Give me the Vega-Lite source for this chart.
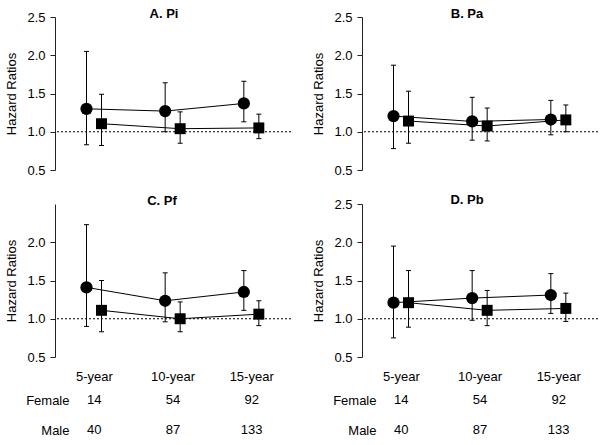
{
  "$schema": "https://vega.github.io/schema/vega-lite/v6.json",
  "padding": {"left": 5, "top": 8, "right": 2, "bottom": 2},
  "background": "white",
  "config": {
    "view": {"stroke": null},
    "font": "Liberation Sans",
    "axis": {"labelFont": "Liberation Sans", "titleFont": "Liberation Sans", "labelColor": "#000", "titleColor": "#000", "grid": false, "domainColor": "#222", "tickColor": "#222", "labelFontSize": 13, "titleFontSize": 13, "titleFontWeight": "normal"},
    "title": {"font": "Liberation Sans", "fontSize": 13, "fontWeight": "bold", "color": "#000"}
  },
  "datasets": {
    "hr": [
      {"panel": "A", "period": "5-year", "sex": "Female", "hr": 1.30, "lo": 0.83, "hi": 2.05},
      {"panel": "A", "period": "10-year", "sex": "Female", "hr": 1.27, "lo": 1.00, "hi": 1.64},
      {"panel": "A", "period": "15-year", "sex": "Female", "hr": 1.37, "lo": 1.13, "hi": 1.66},
      {"panel": "A", "period": "5-year", "sex": "Male", "hr": 1.105, "lo": 0.82, "hi": 1.49},
      {"panel": "A", "period": "10-year", "sex": "Male", "hr": 1.04, "lo": 0.85, "hi": 1.26},
      {"panel": "A", "period": "15-year", "sex": "Male", "hr": 1.05, "lo": 0.91, "hi": 1.23},
      {"panel": "B", "period": "5-year", "sex": "Female", "hr": 1.205, "lo": 0.78, "hi": 1.87},
      {"panel": "B", "period": "10-year", "sex": "Female", "hr": 1.135, "lo": 0.89, "hi": 1.45},
      {"panel": "B", "period": "15-year", "sex": "Female", "hr": 1.16, "lo": 0.96, "hi": 1.41},
      {"panel": "B", "period": "5-year", "sex": "Male", "hr": 1.14, "lo": 0.85, "hi": 1.53},
      {"panel": "B", "period": "10-year", "sex": "Male", "hr": 1.075, "lo": 0.88, "hi": 1.31},
      {"panel": "B", "period": "15-year", "sex": "Male", "hr": 1.155, "lo": 1.00, "hi": 1.35},
      {"panel": "C", "period": "5-year", "sex": "Female", "hr": 1.41, "lo": 0.90, "hi": 2.23},
      {"panel": "C", "period": "10-year", "sex": "Female", "hr": 1.235, "lo": 0.96, "hi": 1.60},
      {"panel": "C", "period": "15-year", "sex": "Female", "hr": 1.35, "lo": 1.11, "hi": 1.63},
      {"panel": "C", "period": "5-year", "sex": "Male", "hr": 1.11, "lo": 0.83, "hi": 1.50},
      {"panel": "C", "period": "10-year", "sex": "Male", "hr": 1.00, "lo": 0.83, "hi": 1.22},
      {"panel": "C", "period": "15-year", "sex": "Male", "hr": 1.06, "lo": 0.91, "hi": 1.235},
      {"panel": "D", "period": "5-year", "sex": "Female", "hr": 1.21, "lo": 0.75, "hi": 1.95},
      {"panel": "D", "period": "10-year", "sex": "Female", "hr": 1.27, "lo": 0.98, "hi": 1.63},
      {"panel": "D", "period": "15-year", "sex": "Female", "hr": 1.31, "lo": 1.07, "hi": 1.59},
      {"panel": "D", "period": "5-year", "sex": "Male", "hr": 1.21, "lo": 0.89, "hi": 1.63},
      {"panel": "D", "period": "10-year", "sex": "Male", "hr": 1.11, "lo": 0.91, "hi": 1.37},
      {"panel": "D", "period": "15-year", "sex": "Male", "hr": 1.135, "lo": 0.965, "hi": 1.335}
    ],
    "counts": [
      {"row": "Female", "period": "5-year", "n": 14},
      {"row": "Female", "period": "10-year", "n": 54},
      {"row": "Female", "period": "15-year", "n": 92},
      {"row": "Male", "period": "5-year", "n": 40},
      {"row": "Male", "period": "10-year", "n": 87},
      {"row": "Male", "period": "15-year", "n": 133}
    ],
    "ref": [{"value": 1}]
  },
  "vconcat": [
    {
      "hconcat": [
        {
          "width": 236, "height": 153,
          "title": {"text": "A. Pi", "frame": "group", "baseline": "alphabetic", "offset": -3, "dx": -9, "dy": 17},
          "data": {"name": "hr"},
          "transform": [{"filter": "datum.panel === 'A'"}],
          "layer": [
            {"data": {"name": "ref"}, "mark": {"type": "rule", "strokeDash": [2, 2], "color": "#000", "strokeWidth": 1},
             "encoding": {"y": {"field": "value", "type": "quantitative", "title": "Hazard Ratios", "scale": {"domain": [0.5, 2.5], "nice": false, "zero": false}, "axis": {"values": [0.5, 1, 1.5, 2, 2.5], "tickCount": 5, "format": ".1f", "tickSize": 5, "labelPadding": 5, "titlePadding": 8, "labelOverlap": false}}}},
            {"mark": {"type": "line", "color": "#000", "strokeWidth": 1},
             "encoding": {"x": {"field": "period", "type": "ordinal", "sort": ["5-year", "10-year", "15-year"], "scale": {"type": "band", "paddingInner": 0, "paddingOuter": 0}, "axis": null},
                          "xOffset": {"field": "sex", "type": "nominal", "sort": ["Female", "Male"], "scale": {"type": "point", "range": [31.5, 46.5], "padding": 0}},
                          "y": {"field": "hr", "type": "quantitative", "title": "Hazard Ratios"},
                          "detail": {"field": "sex", "type": "nominal"}}},
            {"mark": {"type": "rule", "color": "#000", "strokeWidth": 1},
             "encoding": {"x": {"field": "period", "type": "ordinal", "sort": ["5-year", "10-year", "15-year"], "axis": null},
                          "xOffset": {"field": "sex", "type": "nominal", "sort": ["Female", "Male"]},
                          "y": {"field": "lo", "type": "quantitative", "title": "Hazard Ratios"}, "y2": {"field": "hi"}}},
            {"mark": {"type": "tick", "orient": "horizontal", "size": 5, "thickness": 1, "color": "#000", "opacity": 1},
             "encoding": {"x": {"field": "period", "type": "ordinal", "sort": ["5-year", "10-year", "15-year"], "axis": null},
                          "xOffset": {"field": "sex", "type": "nominal", "sort": ["Female", "Male"]},
                          "y": {"field": "hi", "type": "quantitative", "title": "Hazard Ratios"}}},
            {"mark": {"type": "tick", "orient": "horizontal", "size": 5, "thickness": 1, "color": "#000", "opacity": 1},
             "encoding": {"x": {"field": "period", "type": "ordinal", "sort": ["5-year", "10-year", "15-year"], "axis": null},
                          "xOffset": {"field": "sex", "type": "nominal", "sort": ["Female", "Male"]},
                          "y": {"field": "lo", "type": "quantitative", "title": "Hazard Ratios"}}},
            {"mark": {"type": "point", "filled": true, "color": "#000", "opacity": 1},
             "encoding": {"x": {"field": "period", "type": "ordinal", "sort": ["5-year", "10-year", "15-year"], "axis": null},
                          "xOffset": {"field": "sex", "type": "nominal", "sort": ["Female", "Male"]},
                          "y": {"field": "hr", "type": "quantitative", "title": "Hazard Ratios"},
                          "shape": {"field": "sex", "type": "nominal", "scale": {"domain": ["Female", "Male"], "range": ["circle", "square"]}, "legend": null},
                          "size": {"field": "sex", "type": "ordinal", "scale": {"domain": ["Female", "Male"], "range": [150, 120]}, "legend": null}}}
          ]
        },
        {
          "width": 236, "height": 153,
          "title": {"text": "B. Pa", "frame": "group", "baseline": "alphabetic", "offset": -3, "dx": -13, "dy": 17},
          "data": {"name": "hr"},
          "transform": [{"filter": "datum.panel === 'B'"}],
          "layer": [
            {"data": {"name": "ref"}, "mark": {"type": "rule", "strokeDash": [2, 2], "color": "#000", "strokeWidth": 1},
             "encoding": {"y": {"field": "value", "type": "quantitative", "title": "Hazard Ratios", "scale": {"domain": [0.5, 2.5], "nice": false, "zero": false}, "axis": {"values": [0.5, 1, 1.5, 2, 2.5], "tickCount": 5, "format": ".1f", "tickSize": 5, "labelPadding": 5, "titlePadding": 8, "labelOverlap": false}}}},
            {"mark": {"type": "line", "color": "#000", "strokeWidth": 1},
             "encoding": {"x": {"field": "period", "type": "ordinal", "sort": ["5-year", "10-year", "15-year"], "scale": {"type": "band", "paddingInner": 0, "paddingOuter": 0}, "axis": null},
                          "xOffset": {"field": "sex", "type": "nominal", "sort": ["Female", "Male"], "scale": {"type": "point", "range": [31.5, 46.5], "padding": 0}},
                          "y": {"field": "hr", "type": "quantitative", "title": "Hazard Ratios"},
                          "detail": {"field": "sex", "type": "nominal"}}},
            {"mark": {"type": "rule", "color": "#000", "strokeWidth": 1},
             "encoding": {"x": {"field": "period", "type": "ordinal", "sort": ["5-year", "10-year", "15-year"], "axis": null},
                          "xOffset": {"field": "sex", "type": "nominal", "sort": ["Female", "Male"]},
                          "y": {"field": "lo", "type": "quantitative", "title": "Hazard Ratios"}, "y2": {"field": "hi"}}},
            {"mark": {"type": "tick", "orient": "horizontal", "size": 5, "thickness": 1, "color": "#000", "opacity": 1},
             "encoding": {"x": {"field": "period", "type": "ordinal", "sort": ["5-year", "10-year", "15-year"], "axis": null},
                          "xOffset": {"field": "sex", "type": "nominal", "sort": ["Female", "Male"]},
                          "y": {"field": "hi", "type": "quantitative", "title": "Hazard Ratios"}}},
            {"mark": {"type": "tick", "orient": "horizontal", "size": 5, "thickness": 1, "color": "#000", "opacity": 1},
             "encoding": {"x": {"field": "period", "type": "ordinal", "sort": ["5-year", "10-year", "15-year"], "axis": null},
                          "xOffset": {"field": "sex", "type": "nominal", "sort": ["Female", "Male"]},
                          "y": {"field": "lo", "type": "quantitative", "title": "Hazard Ratios"}}},
            {"mark": {"type": "point", "filled": true, "color": "#000", "opacity": 1},
             "encoding": {"x": {"field": "period", "type": "ordinal", "sort": ["5-year", "10-year", "15-year"], "axis": null},
                          "xOffset": {"field": "sex", "type": "nominal", "sort": ["Female", "Male"]},
                          "y": {"field": "hr", "type": "quantitative", "title": "Hazard Ratios"},
                          "shape": {"field": "sex", "type": "nominal", "scale": {"domain": ["Female", "Male"], "range": ["circle", "square"]}, "legend": null},
                          "size": {"field": "sex", "type": "ordinal", "scale": {"domain": ["Female", "Male"], "range": [150, 120]}, "legend": null}}}
          ]
        }
      ],
      "spacing": 20
    },
    {
      "concat": [
        {
          "width": 236, "height": 153,
          "title": {"text": "C. Pf", "frame": "group", "baseline": "alphabetic", "offset": -3, "dx": -11, "dy": 11},
          "data": {"name": "hr"},
          "transform": [{"filter": "datum.panel === 'C'"}],
          "layer": [
            {"data": {"name": "ref"}, "mark": {"type": "rule", "strokeDash": [2, 2], "color": "#000", "strokeWidth": 1},
             "encoding": {"y": {"field": "value", "type": "quantitative", "title": "Hazard Ratios", "scale": {"domain": [0.5, 2.5], "nice": false, "zero": false}, "axis": {"values": [0.5, 1, 1.5, 2], "tickCount": 5, "format": ".1f", "tickSize": 5, "labelPadding": 5, "titlePadding": 8, "labelOverlap": false}}}},
            {"mark": {"type": "line", "color": "#000", "strokeWidth": 1},
             "encoding": {"x": {"field": "period", "type": "ordinal", "sort": ["5-year", "10-year", "15-year"], "scale": {"type": "band", "paddingInner": 0, "paddingOuter": 0}, "axis": {"title": null, "domain": false, "ticks": false, "labelPadding": 13, "labelFontSize": 13, "labelAngle": 0}},
                          "xOffset": {"field": "sex", "type": "nominal", "sort": ["Female", "Male"], "scale": {"type": "point", "range": [31.5, 46.5], "padding": 0}},
                          "y": {"field": "hr", "type": "quantitative", "title": "Hazard Ratios"},
                          "detail": {"field": "sex", "type": "nominal"}}},
            {"mark": {"type": "rule", "color": "#000", "strokeWidth": 1},
             "encoding": {"x": {"field": "period", "type": "ordinal", "sort": ["5-year", "10-year", "15-year"], "axis": {"title": null, "domain": false, "ticks": false, "labelPadding": 13, "labelFontSize": 13, "labelAngle": 0}},
                          "xOffset": {"field": "sex", "type": "nominal", "sort": ["Female", "Male"]},
                          "y": {"field": "lo", "type": "quantitative", "title": "Hazard Ratios"}, "y2": {"field": "hi"}}},
            {"mark": {"type": "tick", "orient": "horizontal", "size": 5, "thickness": 1, "color": "#000", "opacity": 1},
             "encoding": {"x": {"field": "period", "type": "ordinal", "sort": ["5-year", "10-year", "15-year"], "axis": {"title": null, "domain": false, "ticks": false, "labelPadding": 13, "labelFontSize": 13, "labelAngle": 0}},
                          "xOffset": {"field": "sex", "type": "nominal", "sort": ["Female", "Male"]},
                          "y": {"field": "hi", "type": "quantitative", "title": "Hazard Ratios"}}},
            {"mark": {"type": "tick", "orient": "horizontal", "size": 5, "thickness": 1, "color": "#000", "opacity": 1},
             "encoding": {"x": {"field": "period", "type": "ordinal", "sort": ["5-year", "10-year", "15-year"], "axis": {"title": null, "domain": false, "ticks": false, "labelPadding": 13, "labelFontSize": 13, "labelAngle": 0}},
                          "xOffset": {"field": "sex", "type": "nominal", "sort": ["Female", "Male"]},
                          "y": {"field": "lo", "type": "quantitative", "title": "Hazard Ratios"}}},
            {"mark": {"type": "point", "filled": true, "color": "#000", "opacity": 1},
             "encoding": {"x": {"field": "period", "type": "ordinal", "sort": ["5-year", "10-year", "15-year"], "axis": {"title": null, "domain": false, "ticks": false, "labelPadding": 13, "labelFontSize": 13, "labelAngle": 0}},
                          "xOffset": {"field": "sex", "type": "nominal", "sort": ["Female", "Male"]},
                          "y": {"field": "hr", "type": "quantitative", "title": "Hazard Ratios"},
                          "shape": {"field": "sex", "type": "nominal", "scale": {"domain": ["Female", "Male"], "range": ["circle", "square"]}, "legend": null},
                          "size": {"field": "sex", "type": "ordinal", "scale": {"domain": ["Female", "Male"], "range": [150, 120]}, "legend": null}}}
          ]
        },
        {
          "width": 236, "height": 153,
          "title": {"text": "D. Pb", "frame": "group", "baseline": "alphabetic", "offset": -3, "dx": -13, "dy": 16},
          "data": {"name": "hr"},
          "transform": [{"filter": "datum.panel === 'D'"}],
          "layer": [
            {"data": {"name": "ref"}, "mark": {"type": "rule", "strokeDash": [2, 2], "color": "#000", "strokeWidth": 1},
             "encoding": {"y": {"field": "value", "type": "quantitative", "title": "Hazard Ratios", "scale": {"domain": [0.5, 2.5], "nice": false, "zero": false}, "axis": {"values": [0.5, 1, 1.5, 2, 2.5], "tickCount": 5, "format": ".1f", "tickSize": 5, "labelPadding": 5, "titlePadding": 8, "labelOverlap": false}}}},
            {"mark": {"type": "line", "color": "#000", "strokeWidth": 1},
             "encoding": {"x": {"field": "period", "type": "ordinal", "sort": ["5-year", "10-year", "15-year"], "scale": {"type": "band", "paddingInner": 0, "paddingOuter": 0}, "axis": {"title": null, "domain": false, "ticks": false, "labelPadding": 13, "labelFontSize": 13, "labelAngle": 0}},
                          "xOffset": {"field": "sex", "type": "nominal", "sort": ["Female", "Male"], "scale": {"type": "point", "range": [31.5, 46.5], "padding": 0}},
                          "y": {"field": "hr", "type": "quantitative", "title": "Hazard Ratios"},
                          "detail": {"field": "sex", "type": "nominal"}}},
            {"mark": {"type": "rule", "color": "#000", "strokeWidth": 1},
             "encoding": {"x": {"field": "period", "type": "ordinal", "sort": ["5-year", "10-year", "15-year"], "axis": {"title": null, "domain": false, "ticks": false, "labelPadding": 13, "labelFontSize": 13, "labelAngle": 0}},
                          "xOffset": {"field": "sex", "type": "nominal", "sort": ["Female", "Male"]},
                          "y": {"field": "lo", "type": "quantitative", "title": "Hazard Ratios"}, "y2": {"field": "hi"}}},
            {"mark": {"type": "tick", "orient": "horizontal", "size": 5, "thickness": 1, "color": "#000", "opacity": 1},
             "encoding": {"x": {"field": "period", "type": "ordinal", "sort": ["5-year", "10-year", "15-year"], "axis": {"title": null, "domain": false, "ticks": false, "labelPadding": 13, "labelFontSize": 13, "labelAngle": 0}},
                          "xOffset": {"field": "sex", "type": "nominal", "sort": ["Female", "Male"]},
                          "y": {"field": "hi", "type": "quantitative", "title": "Hazard Ratios"}}},
            {"mark": {"type": "tick", "orient": "horizontal", "size": 5, "thickness": 1, "color": "#000", "opacity": 1},
             "encoding": {"x": {"field": "period", "type": "ordinal", "sort": ["5-year", "10-year", "15-year"], "axis": {"title": null, "domain": false, "ticks": false, "labelPadding": 13, "labelFontSize": 13, "labelAngle": 0}},
                          "xOffset": {"field": "sex", "type": "nominal", "sort": ["Female", "Male"]},
                          "y": {"field": "lo", "type": "quantitative", "title": "Hazard Ratios"}}},
            {"mark": {"type": "point", "filled": true, "color": "#000", "opacity": 1},
             "encoding": {"x": {"field": "period", "type": "ordinal", "sort": ["5-year", "10-year", "15-year"], "axis": {"title": null, "domain": false, "ticks": false, "labelPadding": 13, "labelFontSize": 13, "labelAngle": 0}},
                          "xOffset": {"field": "sex", "type": "nominal", "sort": ["Female", "Male"]},
                          "y": {"field": "hr", "type": "quantitative", "title": "Hazard Ratios"},
                          "shape": {"field": "sex", "type": "nominal", "scale": {"domain": ["Female", "Male"], "range": ["circle", "square"]}, "legend": null},
                          "size": {"field": "sex", "type": "ordinal", "scale": {"domain": ["Female", "Male"], "range": [150, 120]}, "legend": null}}}
          ]
        },
        {
          "width": 236, "height": 60,
          "data": {"name": "counts"},
          "mark": {"type": "text", "fontSize": 13, "font": "Liberation Sans", "color": "#000"},
          "encoding": {
            "x": {"field": "period", "type": "ordinal", "sort": ["5-year", "10-year", "15-year"], "scale": {"type": "band", "paddingInner": 0, "paddingOuter": 0}, "axis": null},
            "y": {"field": "row", "type": "nominal", "sort": ["Female", "Male"], "scale": {"type": "point", "padding": 0.5}, "axis": {"title": null, "domain": false, "ticks": false, "labelPadding": -14, "labelFontSize": 13}},
            "text": {"field": "n", "type": "quantitative"}
          }
        },
        {
          "width": 236, "height": 60,
          "data": {"name": "counts"},
          "mark": {"type": "text", "fontSize": 13, "font": "Liberation Sans", "color": "#000"},
          "encoding": {
            "x": {"field": "period", "type": "ordinal", "sort": ["5-year", "10-year", "15-year"], "scale": {"type": "band", "paddingInner": 0, "paddingOuter": 0}, "axis": null},
            "y": {"field": "row", "type": "nominal", "sort": ["Female", "Male"], "scale": {"type": "point", "padding": 0.5}, "axis": {"title": null, "domain": false, "ticks": false, "labelPadding": -14, "labelFontSize": 13}},
            "text": {"field": "n", "type": "quantitative"}
          }
        }
      ],
      "columns": 2,
      "spacing": {"row": 2, "column": 20}
    }
  ],
  "spacing": 17
}
